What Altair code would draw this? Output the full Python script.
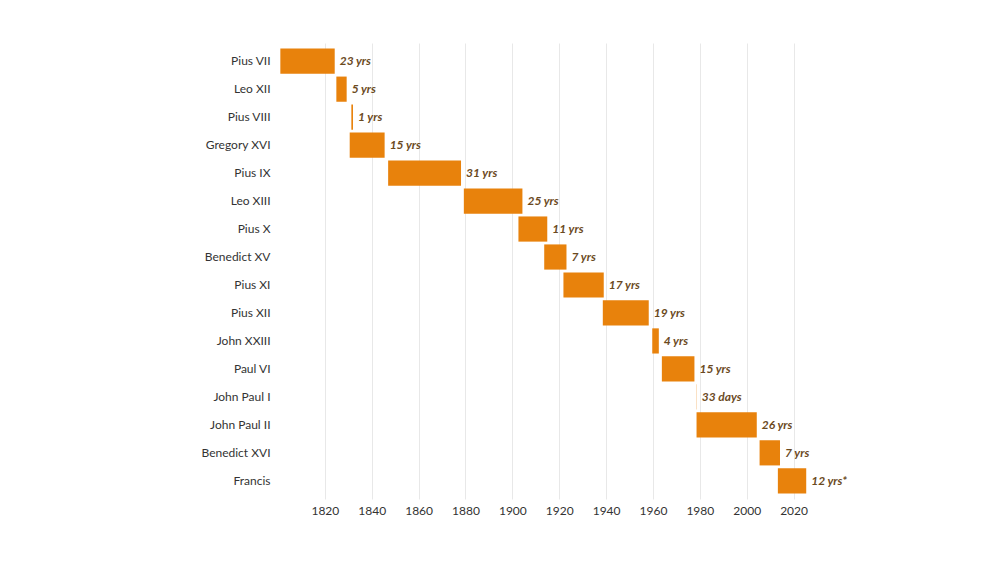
import altair as alt
import pandas as pd

popes = ["Pius VII", "Leo XII", "Pius VIII", "Gregory XVI", "Pius IX", "Leo XIII",
         "Pius X", "Benedict XV", "Pius XI", "Pius XII", "John XXIII", "Paul VI",
         "John Paul I", "John Paul II", "Benedict XVI", "Francis"]
start = [1801.0, 1824.9, 1831.3, 1830.6, 1847.0, 1879.3, 1902.6, 1913.6,
         1921.8, 1938.6, 1959.7, 1963.8, 1978.6, 1978.6, 2005.5, 2013.3]
end = [1824.2, 1829.3, 1832.0, 1845.5, 1878.1, 1904.3, 1914.9, 1923.1,
       1939.0, 1958.2, 1962.5, 1977.7, 1978.7, 2004.3, 2014.2, 2025.4]
labels = ["23 yrs", "5 yrs", "1 yrs", "15 yrs", "31 yrs", "25 yrs", "11 yrs", "7 yrs",
          "17 yrs", "19 yrs", "4 yrs", "15 yrs", "33 days", "26 yrs", "7 yrs", "12 yrs*"]
tick_years = [1820, 1840, 1860, 1880, 1900, 1920, 1940, 1960, 1980, 2000, 2020]

df = pd.DataFrame({"pope": popes, "start": start, "end": end, "label": labels})

FONT = "Lato"

x_scale = alt.Scale(domain=[1800, 2030], nice=False, zero=False)
y_scale = alt.Scale(domain=popes, paddingInner=0.1, paddingOuter=0.2)

base = alt.Chart(df)

bars = base.mark_bar(color="#E8820C", cornerRadius=0).encode(
    x=alt.X("start:Q", scale=x_scale, title=None,
            axis=alt.Axis(values=tick_years, format="d", grid=True, gridColor="#e8e8e8",
                          domain=False, ticks=False, labelPadding=6,
                          labelFont=FONT, labelFontSize=12, labelColor="#333333")),
    x2="end:Q",
    y=alt.Y("pope:N", scale=y_scale, sort=popes, title=None,
            axis=alt.Axis(domain=False, ticks=False, grid=False, labelPadding=8,
                          labelFont=FONT, labelFontSize=12, labelColor="#333333")),
)

text = base.mark_text(align="left", baseline="middle", dx=5, font=FONT, fontSize=12,
                      fontStyle="italic", fontWeight="bold", color="#6b4a1e").encode(
    x=alt.X("end:Q", scale=x_scale),
    y=alt.Y("pope:N", scale=y_scale, sort=popes),
    text="label:N",
)

chart = (bars + text).properties(
    width=539, height=456,
    autosize=alt.AutoSizeParams(type="none"),
    padding={"left": 270, "top": 35, "right": 175, "bottom": 56},
).configure(background="white").configure_view(stroke=None)

chart.save("out.html", embed_options={"renderer": "svg", "actions": False})
